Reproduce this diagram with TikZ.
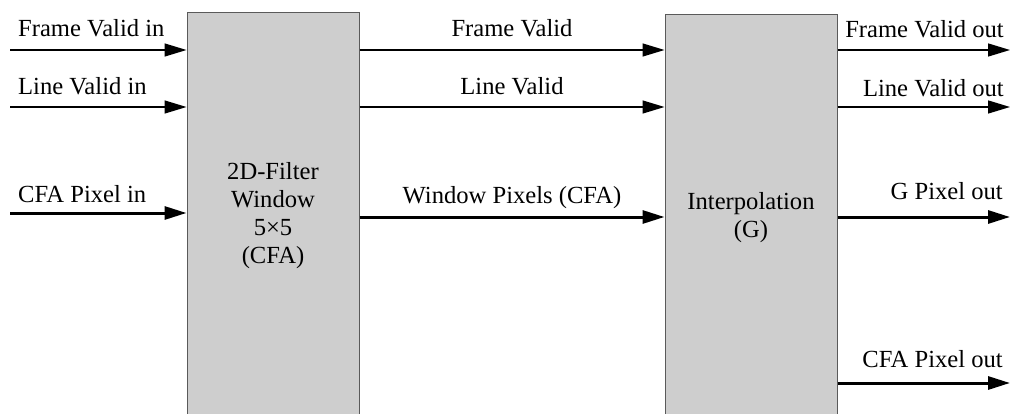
\documentclass[tikz,border=0pt]{standalone}
\usepackage{fontspec}
\setmainfont{Liberation Serif}
\usetikzlibrary{arrows.meta}
\definecolor{blockgray}{RGB}{206,206,206}
\definecolor{edgegray}{RGB}{90,90,90}
\tikzset{
  block/.style={rectangle, draw=edgegray, line width=1pt, fill=blockgray,
    minimum width=172pt, inner sep=0pt},
  lbl/.style={inner sep=0pt, font=\fontsize{24.6}{28}\selectfont},
  blocktext/.style={lbl, align=center, anchor=base},
  sig/.style={line width=1.4pt, -{Triangle[length=22pt,width=13pt]}},
  bus/.style={line width=3pt, -{Triangle[length=22pt,width=13pt]}}
}
\begin{document}
\begin{tikzpicture}[x=1pt,y=-1pt]
\useasboundingbox (0,0) rectangle (1011,414);
\clip (0,0) rectangle (1011,414);
\fill[white] (0,0) rectangle (1011,414);

% processing blocks (they run past the lower edge)
\node[block, minimum height=407pt] (filt) at (273,216.5) {};
\node[block, minimum height=405pt] (interp) at (751,217.5) {};
% block captions, placed by the baseline of their last line
\node[blocktext] (filttxt) at (273,263) {2D-Filter\\Window\\5×5\\(CFA)};
\node[blocktext] (interptxt) at (751,237) {Interpolation\\(G)};

% free ends of the signal lines
\coordinate (fvin)  at (10,50);
\coordinate (lvin)  at (10,107);
\coordinate (cfain) at (10,213);
\coordinate (fvout) at (1010,50);
\coordinate (lvout) at (1010,107);
\coordinate (gout)  at (1010,217);
\coordinate (cfaout) at (1010,383);

% inputs
\draw[sig] (fvin) -- (filt.west |- fvin);
\draw[sig] (lvin) -- (filt.west |- lvin);
\draw[bus] (cfain) -- (filt.west |- cfain);
\node[lbl, anchor=base west] (fvinl) at (18,37) {Frame Valid in};
\node[lbl, anchor=base west] (lvinl) at (18,95) {Line Valid in};
\node[lbl, anchor=base west] (cfainl) at (18,203) {CFA Pixel in};

% between the blocks
\draw[sig] (filt.east |- fvin) -- (interp.west |- fvin);
\draw[sig] (filt.east |- lvin) -- (interp.west |- lvin);
\draw[bus] (filt.east |- gout) -- (interp.west |- gout);
\node[lbl, anchor=base] (fvmid) at (512,37) {Frame Valid};
\node[lbl, anchor=base] (lvmid) at (512,95) {Line Valid};
\node[lbl, anchor=base] (wpmid) at (512,204) {Window Pixels (CFA)};

% outputs
\draw[sig] (interp.east |- fvout) -- (fvout);
\draw[sig] (interp.east |- lvout) -- (lvout);
\draw[bus] (interp.east |- gout) -- (gout);
\draw[bus] (interp.east |- cfaout) -- (cfaout);
\node[lbl, anchor=base east] (fvoutl) at (1004,38) {Frame Valid out};
\node[lbl, anchor=base east] (lvoutl) at (1004,97) {Line Valid out};
\node[lbl, anchor=base east] (goutl) at (1003,199) {G Pixel out};
\node[lbl, anchor=base east] (cfaoutl) at (1003,367) {CFA Pixel out};
\end{tikzpicture}
\end{document}
